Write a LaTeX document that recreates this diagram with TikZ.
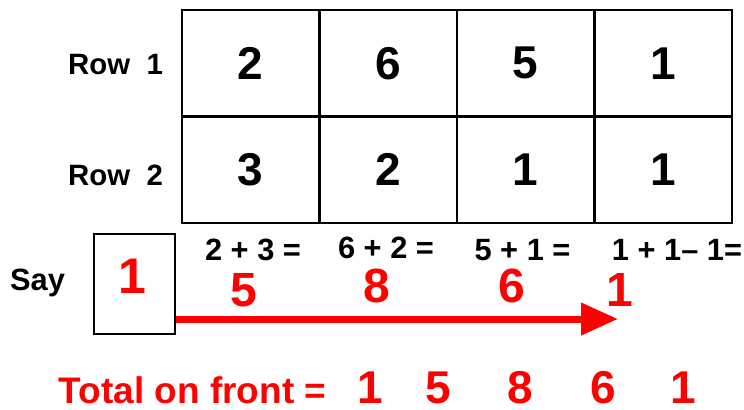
\documentclass[tikz,border=0pt]{standalone}
\usepackage{fontspec}
\setmainfont{Liberation Sans}
\usetikzlibrary{arrows.meta, positioning, calc}
\tikzset{
    gridCell/.style={
        draw=black, line width=1.2pt, minimum width=68.75pt, minimum height=53.25pt, inner sep=0pt, font=\fontsize{23}{23}\selectfont\bfseries
    },
    rowLabel/.style={
        anchor=base, inner sep=0pt, font=\fontsize{14.7}{15}\selectfont\bfseries
    },
    sumText/.style={
        anchor=base, inner sep=0pt, font=\fontsize{15.4}{16}\selectfont\bfseries
    },
    sayFrame/.style={
        draw=black, line width=1.2pt, minimum width=40.5pt, minimum height=50pt, inner sep=0pt
    },
    redDigit/.style={
        anchor=base, inner sep=0pt, text=red, font=\fontsize{24}{24}\selectfont\bfseries
    },
    totalDigit/.style={
        anchor=base, inner sep=0pt, text=red, font=\fontsize{23}{23}\selectfont\bfseries
    },
    redArrow/.style={
        -{Triangle[length=18.5pt, width=15.5pt]}, line width=3.5pt, draw=red
    }
}
\begin{document}
\begin{tikzpicture}[x=0.5pt, y=-0.5pt]
    \useasboundingbox (0, 0) rectangle (744, 409);

    % ── ROW LABELS
    \node[rowLabel] (rowOne) at (115.5, 74) {Row~~1};
    \node[rowLabel] (rowTwo) at (115.5, 185) {Row~~2};

    % ── GRID
    \node[gridCell] (c11) at (250.75, 63.25) {2};
    \node[gridCell] (c12) at (388.25, 63.25) {6};
    \node[gridCell] (c13) at (525.75, 63.25) {5};
    \node[gridCell] (c14) at (663.25, 63.25) {1};
    \node[gridCell] (c21) at (250.75, 169.75) {3};
    \node[gridCell] (c22) at (388.25, 169.75) {2};
    \node[gridCell] (c23) at (525.75, 169.75) {1};
    \node[gridCell] (c24) at (663.25, 169.75) {1};

    % ── SAY BOX
    \node[sumText] (say) at (37.5, 290) {Say};
    \node[sayFrame] (sayBox) at (134.5, 284) {};
    \node[redDigit, font=\fontsize{25}{25}\selectfont\bfseries] (sayOne) at (132, 293) {1};

    % ── COLUMN SUMS
    \node[sumText] (sumA) at (253, 260) {2 + 3 =};
    \node[sumText] (sumB) at (386, 258) {6 + 2 =};
    \node[sumText] (sumC) at (522.5, 260) {5 + 1 =};
    \node[sumText] (sumD) at (677, 260) {1 + 1– 1=};
    \node[redDigit] (resA) at (244, 306) {5};
    \node[redDigit] (resB) at (377, 302) {8};
    \node[redDigit] (resC) at (512, 302) {6};
    \node[redDigit] (resD) at (620, 306) {1};

    % ── ARROW
    \coordinate (arrowEnd) at (618, 319);
    \draw[redArrow] (sayBox.east |- arrowEnd) -- (arrowEnd);

    % ── TOTAL
    \node[anchor=base, inner sep=0pt, text=red, font=\fontsize{18.5}{19}\selectfont\bfseries] (total) at (192.5, 403) {Total on front =};
    \node[totalDigit] (totA) at (370, 403) {1};
    \node[totalDigit] (totB) at (438, 403) {5};
    \node[totalDigit] (totC) at (520, 403) {8};
    \node[totalDigit] (totD) at (603, 403) {6};
    \node[totalDigit] (totE) at (683, 403) {1};
\end{tikzpicture}
\end{document}
